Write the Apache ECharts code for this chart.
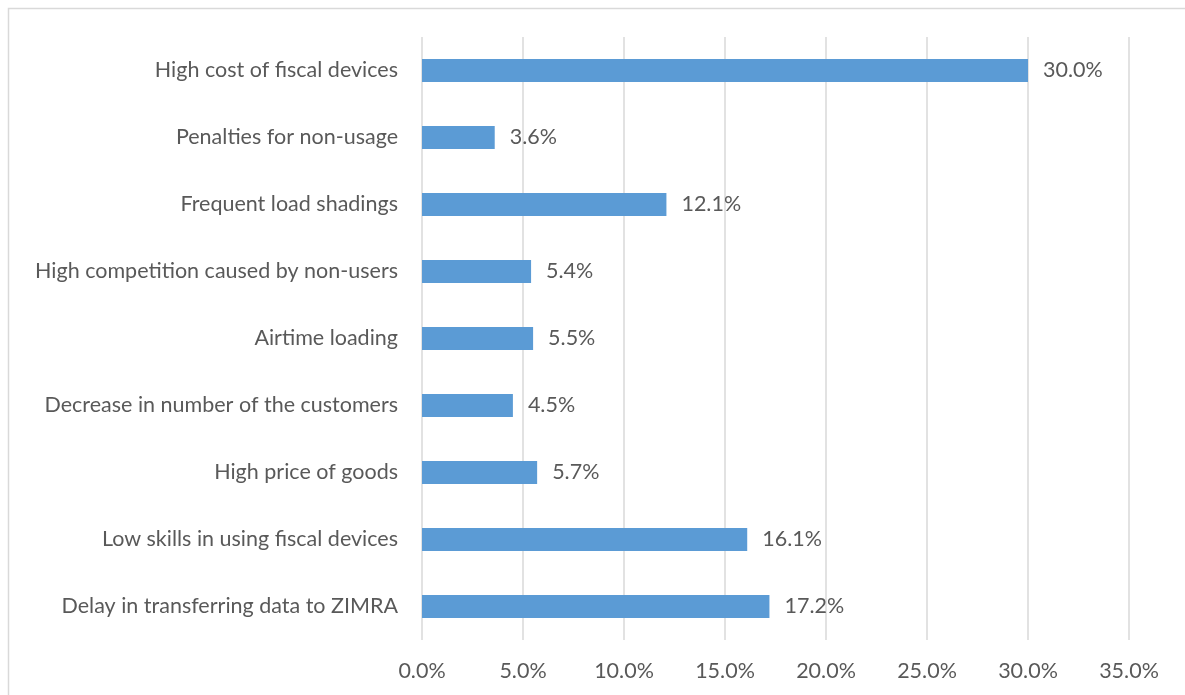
<!DOCTYPE html>
<html>
<head>
<meta charset="utf-8">
<script src="https://cdn.jsdelivr.net/npm/echarts@6/dist/echarts.min.js"></script>
<style>
  html, body { margin: 0; padding: 0; background: #fff; }
  #chart { width: 1185px; height: 695px; }
</style>
</head>
<body>
<div id="chart"></div>
<script>
// Reasons listed top to bottom
const categories = [
  'High cost of fiscal devices',
  'Penalties for non-usage',
  'Frequent load shadings',
  'High competition caused by non-users',
  'Airtime loading',
  'Decrease in number of the customers',
  'High price of goods',
  'Low skills in using fiscal devices',
  'Delay in transferring data to ZIMRA'
];
// Share of respondents, percent
const shares = [30.0, 3.6, 12.1, 5.4, 5.5, 4.5, 5.7, 16.1, 17.2];

const FONT = 'Lato, "Open Sans", sans-serif';
const FONT_SIZE = 21.5;
const TEXT = '#595959';

const chart = echarts.init(document.getElementById('chart'), null, { renderer: 'canvas' });
chart.setOption({
  animation: false,
  backgroundColor: '#ffffff',
  graphic: [{
    type: 'rect',
    shape: { x: 8.5, y: 8.5, width: 1200, height: 700 },
    style: { fill: 'none', stroke: '#D9D9D9', lineWidth: 1.5 },
    silent: true
  }],
  grid: { left: 422, right: 56, top: 37, bottom: 55, containLabel: false },
  xAxis: {
    type: 'value',
    min: 0,
    max: 35,
    interval: 5,
    axisLine: { show: false },
    axisTick: { show: false },
    splitLine: { show: true, lineStyle: { color: '#D9D9D9', width: 1.5 } },
    axisLabel: {
      color: TEXT,
      fontFamily: FONT,
      fontSize: FONT_SIZE,
      margin: 20,
      formatter: v => v.toFixed(1) + '%'
    }
  },
  yAxis: {
    type: 'category',
    data: categories,
    inverse: true,
    axisLine: { show: false },
    axisTick: { show: false },
    splitLine: { show: false },
    axisLabel: {
      color: TEXT,
      fontFamily: FONT,
      fontSize: FONT_SIZE,
      margin: 24
    }
  },
  series: [{
    type: 'bar',
    data: shares,
    barWidth: '34%',
    itemStyle: { color: '#5B9BD5' },
    label: {
      show: true,
      position: 'right',
      distance: 15,
      color: TEXT,
      fontFamily: FONT,
      fontSize: FONT_SIZE,
      formatter: p => p.value.toFixed(1) + '%'
    }
  }]
});
</script>
</body>
</html>
